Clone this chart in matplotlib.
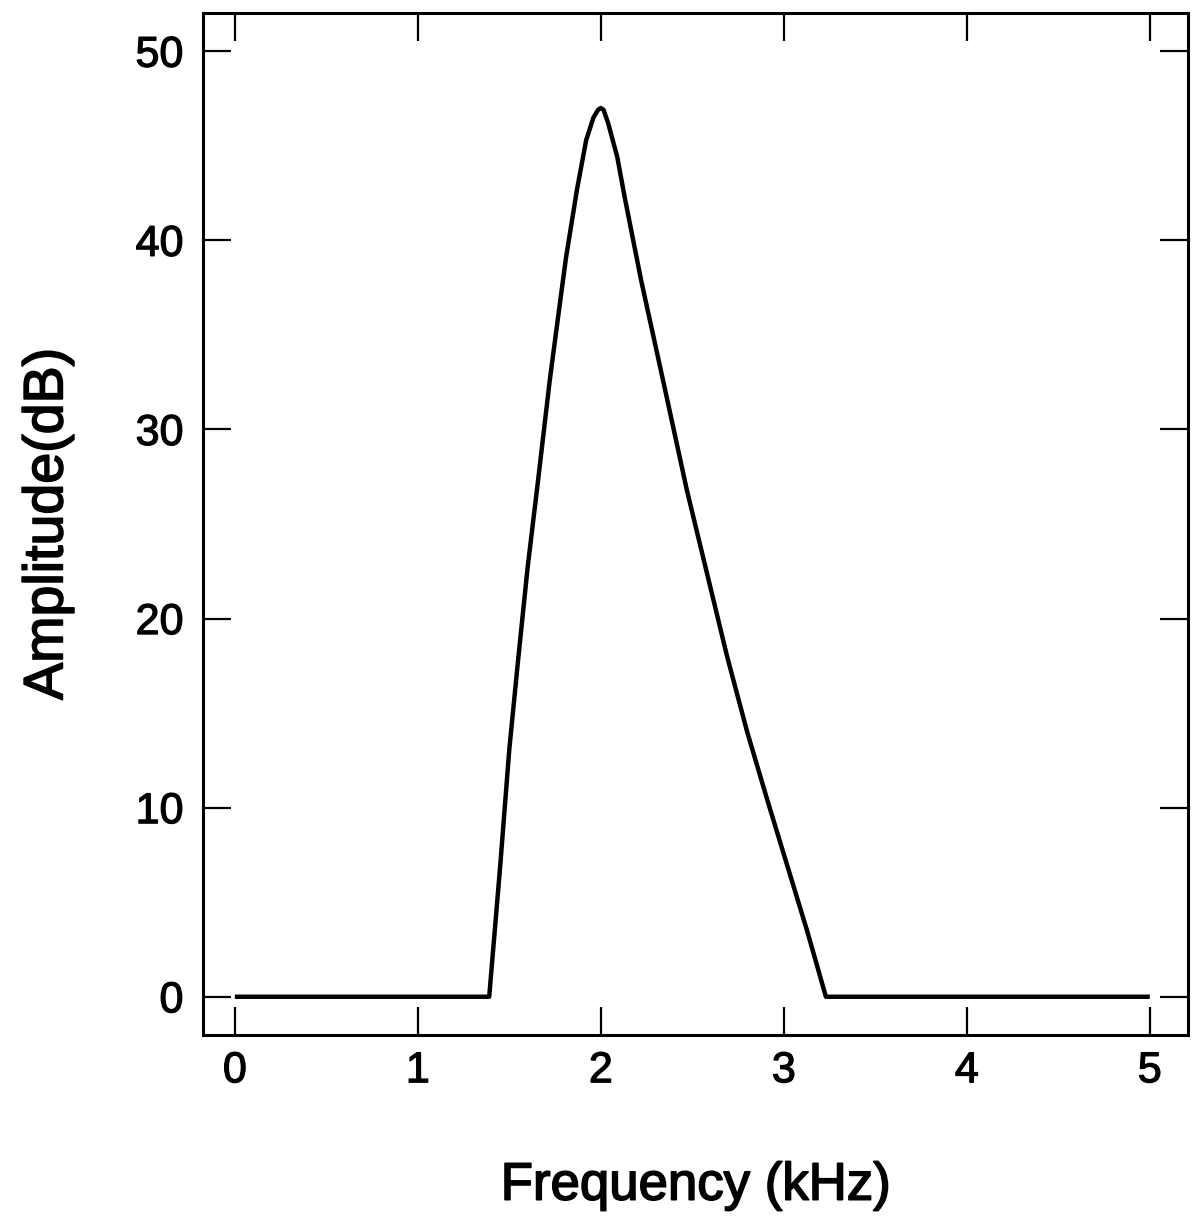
import matplotlib
matplotlib.use("Agg")
import matplotlib.pyplot as plt
import matplotlib.patheffects as pe

freq_khz = [0.0, 1.39, 1.45, 1.50, 1.55, 1.60, 1.657, 1.721, 1.77, 1.81, 1.87,
            1.92, 1.96, 1.985, 2.0, 2.015, 2.04, 2.09, 2.13, 2.22, 2.34, 2.47,
            2.58, 2.69, 2.80, 2.91, 3.02, 3.13, 3.23, 5.0]
amp_db = [0.0, 0.0, 6.9, 13.1, 18.0, 22.7, 27.3, 32.6, 36.2, 39.1, 42.7,
          45.3, 46.5, 46.9, 47.0, 46.9, 46.2, 44.4, 42.3, 37.9, 32.6, 26.8,
          22.4, 18.0, 14.0, 10.4, 6.9, 3.4, 0.0, 0.0]
x_ticks = [0, 1, 2, 3, 4, 5]
y_ticks = [0, 10, 20, 30, 40, 50]

plt.rcParams['font.family'] = ['Liberation Sans', 'DejaVu Sans']

fig = plt.figure(figsize=(11.93, 12.20), dpi=100)
ax = fig.add_axes([0.170, 0.152, 0.826, 0.837])

ax.plot(freq_khz, amp_db, color='black', lw=3.2, solid_joinstyle='round',
        solid_capstyle='butt')

ax.set_xlim(-0.175, 5.21)
ax.set_ylim(-2.0, 52.0)
ax.set_xticks(x_ticks)
ax.set_yticks(y_ticks)
ax.tick_params(direction='in', length=20, width=1.6, top=True, right=True,
               labelsize=31, colors='black')
ax.tick_params(axis='y', pad=14)
ax.tick_params(axis='x', pad=12)
for s in ax.spines.values():
    s.set_linewidth(2.2)

stroke = [pe.withStroke(linewidth=0.9, foreground='black')]
for lab in ax.get_xticklabels() + ax.get_yticklabels():
    lab.set_path_effects(stroke)

xl = ax.set_xlabel('Frequency (kHz)', fontsize=38, labelpad=50)
yl = ax.set_ylabel('Amplitude(dB)', fontsize=40, labelpad=44)
xl.set_path_effects([pe.withStroke(linewidth=1.2, foreground='black')])
yl.set_path_effects([pe.withStroke(linewidth=1.2, foreground='black')])

fig.savefig('out.png', dpi=100, facecolor='white')
